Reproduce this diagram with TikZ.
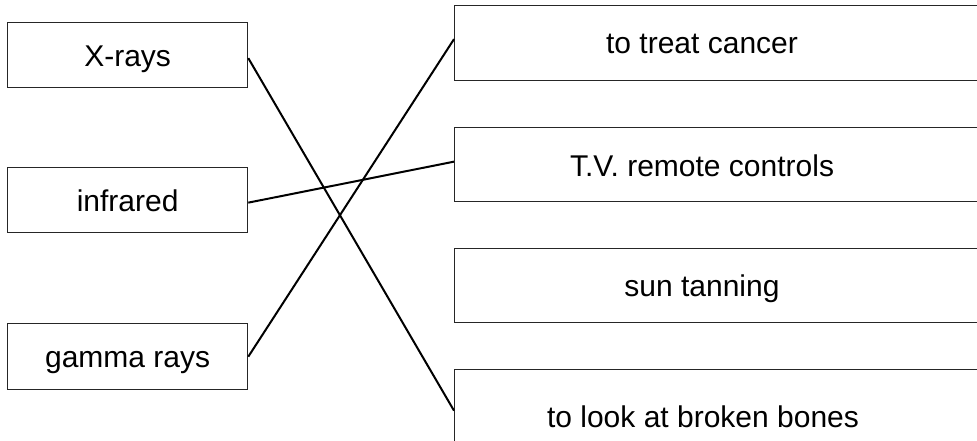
\documentclass[tikz,border=0pt]{standalone}
\usepackage{fontspec}
\setmainfont{Liberation Sans}
\begin{document}
\begin{tikzpicture}[x=1pt,y=-1pt,
  boxline/.style={draw=black!85, line width=1.3pt},
  wordfont/.style={font=\fontsize{30}{36}\selectfont},
  choice/.style={boxline, wordfont, anchor=north west, inner sep=0pt,
    minimum width=240pt, text height=22pt, text depth=0pt},
  usebox/.style={boxline, anchor=north west, inner sep=0pt, minimum width=560pt},
  usetext/.style={wordfont, anchor=base, inner sep=0pt},
  link/.style={line width=2pt, black}]
\useasboundingbox (0,0) rectangle (977,441);
\clip (0,0) rectangle (977,441);

% left column: types of radiation
\node[choice, minimum height=65pt] (xr) at (7,22) {X-rays};
\node[choice, minimum height=65pt] (ir) at (7,167) {infrared};
\node[choice, minimum height=66pt] (gm) at (7,323) {gamma rays};

% right column: uses (boxes run past the right edge)
\node[usebox, minimum height=75pt] (cancer) at (454,5) {};
\node[usebox, minimum height=74pt] (tv) at (454,127) {};
\node[usebox, minimum height=74pt] (sun) at (454,248) {};
\node[usebox, minimum height=94pt] (bones) at (454,369) {};

\node[usetext] (cancer-t) at (702,54) {to treat cancer};
\node[usetext] (tv-t) at (702,176) {T.V. remote controls};
\node[usetext] (sun-t) at (702,296) {sun tanning};
\node[usetext] (bones-t) at (703,427) {to look at broken bones};

% matching lines
\draw[link] ([yshift=-3pt]xr.east) -- ([yshift=6pt]bones.west);
\draw[link] ([yshift=-2.5pt]ir.east) -- ([yshift=3pt]tv.west);
\draw[link] (gm.east) -- ([yshift=4pt]cancer.west);
\end{tikzpicture}
\end{document}
